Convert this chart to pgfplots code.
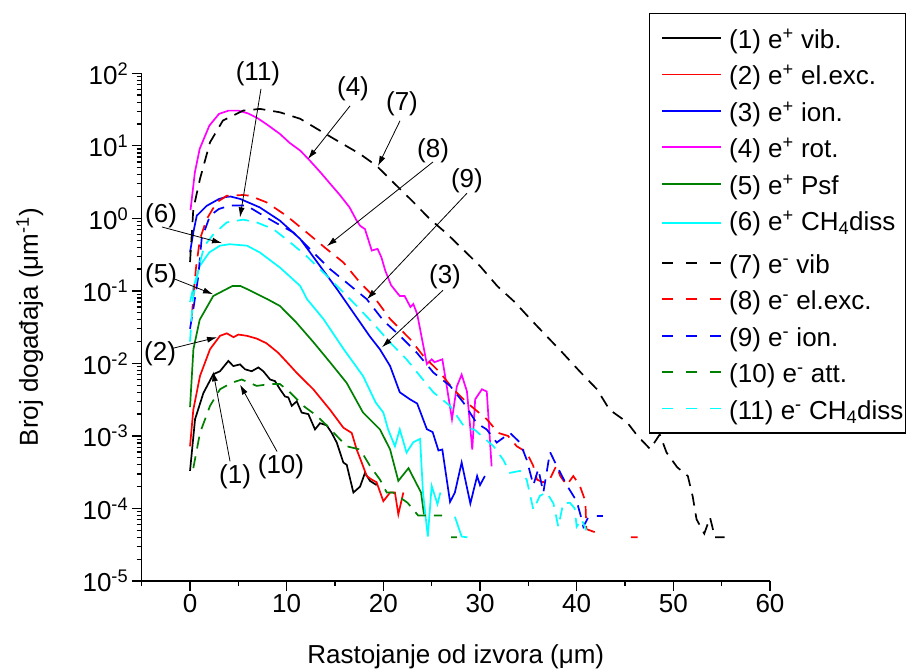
\documentclass[border=0pt]{standalone}
\usepackage{fontspec}
\setmainfont{Liberation Sans}
\usepackage{pgfplots}
\pgfplotsset{compat=1.18}
\usetikzlibrary{arrows.meta}
\definecolor{cred}{RGB}{255,0,0}
\definecolor{cblue}{RGB}{0,0,255}
\definecolor{cmag}{RGB}{255,0,255}
\definecolor{cgreen}{RGB}{0,128,0}
\definecolor{ccyan}{RGB}{0,255,255}
\newcommand{\fs}{\fontsize{26bp}{31bp}\selectfont}
\newcommand{\lt}[1]{\kern7bp#1\kern-10bp}
\pgfplotsset{
  sol/.style={line width=1.7bp, no marks, solid},
  das/.style={line width=1.7bp, no marks, dash pattern=on 12bp off 8bp,
    legend image code/.code={\draw[##1, line width=1.8bp, dash pattern=on 11bp off 13bp] (0bp,0bp) -- (59bp,0bp);}},
}
\tikzset{ann/.style={line width=0.8bp, -{Latex[length=10bp,width=6bp]}}}
\begin{document}
\begin{tikzpicture}
\begin{axis}[
  name=ax,
  scale only axis, width=628.3bp, height=507.7bp,
  xmin=-5, xmax=60, ymode=log, ymin=1e-5, ymax=1e2,
  axis x line*=bottom, axis y line*=left,
  axis line style={-, line width=1.3bp},
  tick align=outside, major tick length=10bp, minor tick length=5bp,
  every tick/.style={line width=1.3bp, black},
  xtick={0,10,...,60}, minor xtick={-5,5,...,55},
  ytick={1e-5,1e-4,1e-3,1e-2,1e-1,1,10,100},
  yticklabels={10\textsuperscript{-5},10\textsuperscript{-4},10\textsuperscript{-3},10\textsuperscript{-2},10\textsuperscript{-1},10\textsuperscript{0},10\textsuperscript{1},10\textsuperscript{2}},
  minor ytick={2e-5,3e-5,4e-5,5e-5,6e-5,7e-5,8e-5,9e-5,2e-4,3e-4,4e-4,5e-4,6e-4,7e-4,8e-4,9e-4,2e-3,3e-3,4e-3,5e-3,6e-3,7e-3,8e-3,9e-3,0.02,0.03,0.04,0.05,0.06,0.07,0.08,0.09,0.2,0.3,0.4,0.5,0.6,0.7,0.8,0.9,2,3,4,5,6,7,8,9,20,30,40,50,60,70,80,90},
  /pgf/number format/assume math mode=true,
  tick label style={font=\fs},
  xlabel={Rastojanje od izvora (μm)},
  ylabel={Broj događaja (μm\textsuperscript{-1})},
  every axis x label/.style={at={(rel axis cs:0.5,0)}, yshift=-76bp, anchor=center, font=\fs},
  every axis y label/.style={at={(rel axis cs:0,0.5)}, xshift=-112bp, anchor=center, rotate=90, font=\fs},
  clip mode=individual,
  unbounded coords=jump,
  legend cell align=left,
  legend image code/.code={\draw[#1, line width=1.8bp] (0bp,0bp) -- (59bp,0bp);},
  legend style={at={(1.2165,1.1188)}, anchor=north east, draw=black, line width=1.2bp,
    font=\fs, inner xsep=12bp, inner ysep=10bp, row sep=7.4bp, column sep=0bp,
    nodes={inner xsep=0bp, inner ysep=0bp, text height=25bp, text depth=4bp}},
]
% (1) e+ vib
\addplot[sol, black] coordinates {(0.0,0.00033) (0.52,0.0017) (1.38,0.0039) (2.41,0.0071) (3.1,0.0078) (3.96,0.0108) (4.48,0.0092) (5.17,0.0097) (5.69,0.0083) (6.38,0.0078) (7.07,0.0088) (7.58,0.0078) (8.28,0.006) (8.79,0.0057) (9.31,0.0044) (9.83,0.0035) (10.17,0.0034) (10.52,0.0026) (11.04,0.003) (11.55,0.0021) (12.24,0.002) (12.93,0.00123) (13.45,0.0015) (14.14,0.0014) (14.66,0.0011) (15.18,0.00081) (15.86,0.00043) (16.21,0.0004) (16.9,0.000166) (17.59,0.0002) (18.1,0.00031) (18.62,0.00024) (19.31,0.00021)};
\addlegendentry{\lt{(1) e\textsuperscript{+} vib.}}
% (2) e+ el.exc.
\addplot[sol, cred] coordinates {(0.0,0.00072) (0.34,0.0023) (1.03,0.0067) (2.07,0.0157) (3.1,0.024) (3.8,0.026) (4.5,0.023) (5.0,0.025) (5.9,0.024) (6.9,0.022) (7.9,0.019) (9.1,0.0141) (10.0,0.0105) (11.04,0.0074) (12.75,0.0044) (14.48,0.0023) (15.86,0.0013) (16.73,0.0011) (17.24,0.00065) (17.76,0.00043) (18.28,0.00028) (18.8,0.00025) (19.3,0.00023) (20.0,0.000126) (20.7,0.000166) (21.2,0.000166) (21.55,0.000083) (22.07,0.000166)};
\addlegendentry{\lt{(2) e\textsuperscript{+} el.exc.}}
% (3) e+ ion.
\addplot[sol, cblue] coordinates {(0.0,0.34) (0.35,0.65) (0.7,1.09) (1.73,1.49) (3.0,1.85) (3.7,1.97) (4.2,2.0) (5.2,1.85) (7.2,1.42) (9.3,0.93) (11.4,0.52) (13.45,0.22) (15.2,0.106) (16.9,0.05) (18.6,0.0236) (19.65,0.0156) (20.7,0.0092) (21.7,0.004) (22.75,0.0032) (23.5,0.0028) (24.5,0.00124) (25.1,0.00113) (25.7,0.00063) (26.1,0.00065) (26.9,0.000123) (27.4,0.000166) (28.1,0.00043) (29.0,0.000117) (29.7,0.00028) (30.0,0.00021) (30.5,0.00028)};
\addlegendentry{\lt{(3) e\textsuperscript{+} ion.}}
% (4) e+ rot.
\addplot[sol, cmag] coordinates {(0.05,1.3) (0.5,4.3) (1.0,9.1) (2.0,19) (3.0,27.6) (4.0,30.6) (5.0,30.6) (6.0,28) (7.0,24) (8.0,19.5) (9.3,14.6) (10.3,11) (11.4,8.6) (12.4,6.25) (13.5,4.3) (14.5,3.0) (15.5,2.1) (16.5,1.42) (17.2,0.95) (17.6,0.79) (18.1,0.71) (18.8,0.36) (19.4,0.38) (19.8,0.29) (20.2,0.19) (20.8,0.12) (21.4,0.095) (21.7,0.085) (22.2,0.085) (22.8,0.06) (23.1,0.066) (23.5,0.048) (24.5,0.0098) (25.0,0.0114) (25.3,0.0104) (26.1,0.0114) (26.4,0.0066) (27.1,0.0017) (27.6,0.0048) (28.1,0.0070) (28.65,0.0041) (29.2,0.00065) (29.5,0.0032) (30.2,0.0044) (30.7,0.0041) (31.2,0.00038)};
\addlegendentry{\lt{(4) e\textsuperscript{+} rot.}}
% (5) e+ Psf
\addplot[sol, cgreen] coordinates {(0.0,0.0025) (0.35,0.0157) (1.0,0.04) (2.4,0.085) (4.4,0.117) (5.2,0.117) (5.9,0.106) (8.0,0.077) (9.3,0.062) (11.0,0.0366) (12.8,0.0194) (14.5,0.0103) (16.2,0.0054) (17.9,0.0021) (19.65,0.00123) (20.7,0.00065) (21.55,0.00024) (22.6,0.00036) (23.9,0.000166) (24.2,0.000083)};
\addlegendentry{\lt{(5) e\textsuperscript{+} Psf}}
% (6) e+ CH4 diss
\addplot[sol, ccyan] coordinates {(0.0,0.07) (0.3,0.106) (1.0,0.22) (2.0,0.34) (3.1,0.42) (4.1,0.44) (5.9,0.42) (7.2,0.34) (9.3,0.21) (11.4,0.117) (12.1,0.077) (13.8,0.041) (15.9,0.0157) (17.9,0.0067) (19.2,0.0029) (20.0,0.0021) (20.5,0.00122) (21.2,0.00072) (21.7,0.00123) (22.4,0.00059) (23.1,0.00082) (23.8,0.00091) (24.1,0.000166) (24.6,0.000041) (25.0,0.000205) (25.6,0.000115) (25.9,0.000166) (26.6,nan) (27.4,0.000077) (28.1,0.000041) (28.7,0.00004)};
\addlegendentry[text depth=10.5bp]{\lt{(6) e\textsuperscript{+} CH\textsubscript{4}diss}}
% (7) e- vib
\addplot[das, black] coordinates {(0.0,0.25) (0.17,0.57) (0.34,1.34) (1.03,3.5) (2.07,11.2) (3.4,22.3) (5.5,30.6) (7.24,32.3) (9.3,29) (11.4,23.6) (13.45,16.2) (15.5,11.2) (17.6,7.7) (19.3,5.3) (21.4,2.8) (23.1,1.68) (24.8,0.98) (26.6,0.61) (28.2,0.377) (30.0,0.22) (31.8,0.116) (33.6,0.07) (35.2,0.041) (36.9,0.0237) (38.5,0.0142) (40.3,0.0078) (42.1,0.0044) (43.4,0.0023) (45.2,0.00155) (46.3,0.001) (47.6,0.00066) (48.6,0.00105) (49.3,0.00059) (50.4,0.00037) (51.5,0.00028) (52.0,0.000147) (52.4,0.000071) (53.2,0.000045) (53.8,0.000075) (54.3,0.00004) (55.3,0.00004)};
\addlegendentry{\lt{(7) e\textsuperscript{-} vib}}
% (8) e- el.exc.
\addplot[das, cred] coordinates {(0.18,0.045) (0.6,0.2) (1.03,0.52) (1.73,0.98) (2.76,1.66) (3.8,2.05) (5.5,2.1) (6.2,2.05) (7.93,1.66) (10.0,1.08) (12.07,0.64) (14.14,0.377) (15.86,0.247) (17.59,0.13) (18.96,0.085) (20.7,0.041) (22.76,0.0217) (24.13,0.0127) (25.86,0.0075) (27.24,0.0044) (28.62,0.0029) (30.7,0.0017) (31.9,0.0011) (32.9,0.001) (33.8,0.00072) (34.8,0.0006) (35.5,0.00039) (35.9,0.00025) (36.5,0.00023) (37.2,0.00025) (37.9,0.00039) (38.3,0.00028) (38.97,0.00021) (39.65,0.00028) (40.3,0.00021) (40.9,0.000126) (41.0,0.000052) (42.1,0.000046) (43.0,nan) (45.6,0.00004) (46.3,0.00004)};
\addlegendentry{\lt{(8) e\textsuperscript{-} el.exc.}}
% (9) e- ion.
\addplot[das, cblue] coordinates {(0.0,0.03) (0.34,0.056) (0.86,0.16) (1.2,0.52) (2.07,1.09) (3.0,1.35) (4.14,1.5) (5.86,1.5) (7.58,1.09) (9.0,0.85) (10.69,0.64) (12.75,0.34) (14.48,0.2) (16.2,0.13) (18.28,0.077) (20.0,0.039) (21.72,0.024) (23.45,0.0141) (25.17,0.0075) (26.9,0.0049) (28.27,0.0029) (29.66,0.0015) (30.69,0.00123) (31.73,0.00081) (33.1,0.0011) (34.14,0.00081) (34.83,0.00047) (35.52,0.00021) (36.03,0.00035) (36.55,0.000166) (37.24,0.0006) (37.93,0.00039) (38.97,0.00021) (40.0,0.000126) (40.52,0.000071) (40.69,0.000056) (41.3,0.00008) (41.8,nan) (42.1,0.000079) (42.7,0.000079)};
\addlegendentry{\lt{(9) e\textsuperscript{-} ion.}}
% (10) e- att.
\addplot[das, cgreen] coordinates {(0.34,0.00036) (1.03,0.0011) (2.07,0.0026) (3.1,0.0044) (4.3,0.0054) (5.35,0.006) (6.9,0.0049) (8.3,0.0052) (9.3,0.0052) (10.34,0.004) (11.72,0.0026) (13.1,0.0019) (14.14,0.0014) (15.18,0.001) (16.2,0.00072) (17.6,0.00065) (18.6,0.00039) (19.65,0.00025) (20.35,0.000166) (21.0,0.000166) (22.5,0.00012) (23.6,0.00008) (26.07,0.00008) (26.5,nan) (27.0,0.00004) (27.6,0.00004)};
\addlegendentry{\lt{(10) e\textsuperscript{-} att.}}
% (11) e- CH4 diss
\addplot[das, ccyan] coordinates {(0.0,0.02) (0.3,0.08) (1.03,0.25) (1.5,0.42) (2.41,0.6) (3.8,0.88) (5.5,0.96) (6.9,0.88) (8.62,0.71) (10.34,0.47) (12.07,0.3) (13.79,0.18) (15.52,0.106) (17.24,0.062) (19.0,0.035) (20.7,0.0194) (22.4,0.0114) (23.8,0.0067) (25.17,0.004) (26.9,0.0026) (28.27,0.0014) (29.5,0.0012) (31.4,0.00072) (32.4,0.00047) (33.1,0.00031) (34.14,0.00033) (34.83,0.00025) (35.52,0.000096) (36.2,0.00015) (36.9,0.000166) (37.6,0.000117) (38.1,0.000056) (38.6,0.000117) (39.3,0.00012) (39.8,0.0001) (40.0,0.000056) (40.5,0.000071) (41.0,0.00005)};
\addlegendentry{\lt{(11) e\textsuperscript{-} CH\textsubscript{4}diss}}
% annotations
\node[font=\fs, inner sep=0pt] at (axis cs:7.03,98.5) {(11)};
\draw[ann] (axis cs:7.34,61) -- (axis cs:5.17,1.03);
\node[font=\fs, inner sep=0pt] at (axis cs:16.86,61) {(4)};
\draw[ann] (axis cs:16.55,35.5) -- (axis cs:12.2,6.59);
\node[font=\fs, inner sep=0pt] at (axis cs:21.93,37.8) {(7)};
\draw[ann] (axis cs:21.72,22.1) -- (axis cs:19.45,5.28);
\node[font=\fs, inner sep=0pt] at (axis cs:25.14,8.5) {(8)};
\draw[ann] (axis cs:25.14,6.0) -- (axis cs:14.17,0.414);
\node[font=\fs, inner sep=0pt] at (axis cs:28.65,3.27) {(9)};
\draw[ann] (axis cs:28.65,2.22) -- (axis cs:18.31,0.0768);
\node[font=\fs, inner sep=0pt] at (axis cs:26.38,0.155) {(3)};
\draw[ann] (axis cs:26.17,0.102) -- (axis cs:19.86,0.0167);
\node[font=\fs, inner sep=0pt] at (axis cs:-3.0,1.076) {(6)};
\draw[ann] (axis cs:-2.9,0.76) -- (axis cs:3.31,0.456);
\node[font=\fs, inner sep=0pt] at (axis cs:-3.0,0.16) {(5)};
\draw[ann] (axis cs:-1.55,0.145) -- (axis cs:2.38,0.09);
\node[font=\fs, inner sep=0pt] at (axis cs:-3.1,0.0134) {(2)};
\draw[ann] (axis cs:-1.76,0.0162) -- (axis cs:2.79,0.0229);
\node[font=\fs, inner sep=0pt] at (axis cs:4.66,0.000275) {(1)};
\draw[ann] (axis cs:4.14,0.000446) -- (axis cs:2.38,0.0078);
\node[font=\fs, inner sep=0pt] at (axis cs:9.41,0.00038) {(10)};
\draw[ann] (axis cs:9.0,0.00061) -- (axis cs:5.17,0.0051);
\end{axis}
\pgfresetboundingbox
\path[use as bounding box] (ax.south west) ++(-141.7bp,-90bp) rectangle ++(907bp,671bp);
\end{tikzpicture}
\end{document}
